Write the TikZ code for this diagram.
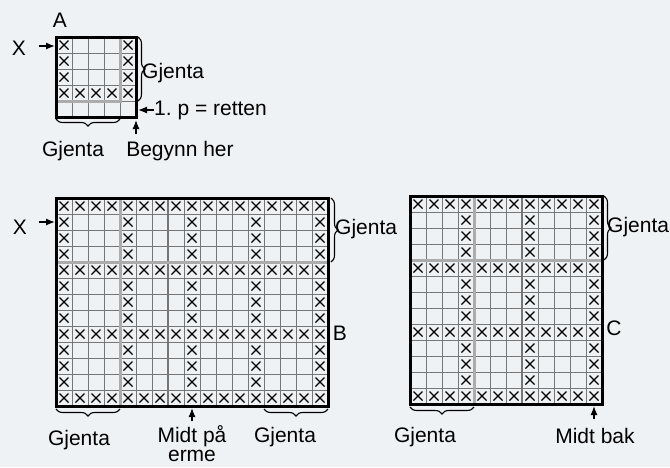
\documentclass[tikz,border=0pt]{standalone}
\usepackage{fontspec}
\setmainfont{Liberation Sans}
\usepackage{tikz}
\usetikzlibrary{
  arrows.meta,calc,positioning,decorations.pathreplacing
}
\definecolor{PaperBg}{RGB}{239,242,245}
\definecolor{GridGray}{RGB}{118,118,118}
\definecolor{RepeatGray}{RGB}{172,172,172}
\frenchspacing

\tikzset{
  lbl/.style={font=\fontsize{21}{19}\selectfont,inner sep=0pt},
  cross/.style={line width=1.1pt,black},
  grd/.style={line width=.9pt,GridGray},
  grdmid/.style={line width=1.7pt,GridGray},
  rpt/.style={line width=3pt,RepeatGray},
  border/.style={line width=3pt,black,line cap=rect},
  brc/.style={decorate,decoration={brace,amplitude=7pt},line width=1.1pt},
  pointer/.style={-{Latex[length=9pt,width=7pt]},line width=1.3pt}
}

\begin{document}
\begin{tikzpicture}[x=1pt,y=-1pt]
      \fill[PaperBg] (0,0) rectangle (670,467);
      \useasboundingbox (0,0) rectangle (670,467);
      % chart A
      \begin{scope}[shift={(56,37)}]
        \foreach \c in {1,...,4}{
          \draw[grd] (16*\c,0)--(16*\c,80);
          \draw[grd] (0,16*\c)--(80,16*\c);
        }
        \foreach \c in {0,...,4}{
          \foreach \r in {0,...,4}{
            \pgfmathtruncatemacro\hasx{(\r<4 && (\c==0 || \c==4 || \r==3)) ? 1 : 0}
            \ifnum\hasx=1
              \draw[cross] (16*\c+3.5,16*\r+3.5)--++(9,9)
                (16*\c+12.5,16*\r+3.5)--++(-9,9);
            \fi
          }
        }
        \draw[rpt] (64,0)--(64,64)--(0,64);
        \draw[border] (0,0) rectangle (80,80);
      \end{scope}
      % chart B
      \begin{scope}[shift={(56,198)}]
        \foreach \c in {1,...,16}{
          \draw[grd] (16*\c,0)--(16*\c,208);
        }
        \foreach \r in {1,...,12}{
          \draw[grd] (0,16*\r)--(272,16*\r);
        }
        \draw[grdmid] (112,0)--(112,208);
        \foreach \c in {0,...,16}{
          \foreach \r in {0,...,12}{
            \pgfmathtruncatemacro\hasx{(mod(\r,4)==0 || mod(\c,4)==0) ? 1 : 0}
            \ifnum\hasx=1
              \draw[cross] (16*\c+3.5,16*\r+3.5)--++(9,9)
                (16*\c+12.5,16*\r+3.5)--++(-9,9);
            \fi
          }
        }
        \draw[rpt] (64,0)--(64,208);
        \draw[rpt] (0,64)--(272,64);
        \draw[border] (0,0) rectangle (272,208);
      \end{scope}
      % chart C
      \begin{scope}[shift={(410,196)}]
        \foreach \c in {1,...,11}{
          \draw[grd] (16*\c,0)--(16*\c,208);
        }
        \foreach \r in {1,...,12}{
          \draw[grd] (0,16*\r)--(192,16*\r);
        }
        \draw[grdmid] (112,0)--(112,208);
        \foreach \c in {0,...,11}{
          \foreach \r in {0,...,12}{
            \pgfmathtruncatemacro\hasx{(mod(\r,4)==0 || mod(\c,4)==3) ? 1 : 0}
            \ifnum\hasx=1
              \draw[cross] (16*\c+3.5,16*\r+3.5)--++(9,9)
                (16*\c+12.5,16*\r+3.5)--++(-9,9);
            \fi
          }
        }
        \draw[rpt] (64,0)--(64,208);
        \draw[rpt] (0,64)--(192,64);
        \draw[border] (0,0) rectangle (192,208);
      \end{scope}
      % labels A
      \node[lbl] (labelA) at (60,20) {A};
      \node[lbl] (rowA) at (19,48) {X};
      \coordinate (rowAfrom) at (39,46);
      \coordinate (rowAto) at (55,46);
      \draw[pointer] (rowAfrom)--(rowAto);
      \coordinate (braceAtop) at (138,37);
      \coordinate (braceAbot) at (138,101);
      \draw[brc] (braceAtop)--(braceAbot);
      \node[lbl,anchor=west] (repeatAright) at (142,73) {Gjenta};
      \node[lbl,anchor=west] (firstA) at (154,110) {1. p = retten};
      \coordinate (firstAto) at (138,110);
      \draw[pointer] (firstA.west)--(firstAto);
      \coordinate (braceAleft) at (56,119);
      \coordinate (braceAright) at (120,119);
      \draw[brc] (braceAright)--(braceAleft);
      \node[lbl] (repeatAbelow) at (73,151) {Gjenta};
      \node[lbl] (startA) at (180,151) {Begynn her};
      \coordinate (startAfrom) at (136,134);
      \coordinate (startAto) at (136,120);
      \draw[pointer] (startAfrom)--(startAto);
      % labels B
      \node[lbl] (rowB) at (20,227) {X};
      \coordinate (rowBfrom) at (39,222);
      \coordinate (rowBto) at (55,222);
      \draw[pointer] (rowBfrom)--(rowBto);
      \coordinate (braceBtop) at (331,198);
      \coordinate (braceBbot) at (331,262);
      \draw[brc] (braceBtop)--(braceBbot);
      \node[lbl,anchor=west] (repeatBright) at (335,229) {Gjenta};
      \node[lbl] (labelB) at (340,333) {B};
      \coordinate (braceBlleft) at (56,409);
      \coordinate (braceBlright) at (120,409);
      \draw[brc] (braceBlright)--(braceBlleft);
      \node[lbl] (repeatBleft) at (79,440) {Gjenta};
      \coordinate (braceBrleft) at (264,409);
      \coordinate (braceBrright) at (328,409);
      \draw[brc] (braceBrright)--(braceBrleft);
      \node[lbl] (repeatBrt) at (285,437) {Gjenta};
      \node[lbl,align=center] (midB) at (192,444) {Midt på\\erme};
      \coordinate (midBfrom) at (192,421);
      \coordinate (midBto) at (192,408);
      \draw[pointer] (midBfrom)--(midBto);
      % labels C
      \coordinate (braceCtop) at (604,196);
      \coordinate (braceCbot) at (604,260);
      \draw[brc] (braceCtop)--(braceCbot);
      \node[lbl,anchor=west] (repeatCright) at (607,227) {Gjenta};
      \node[lbl] (labelC) at (614,328) {C};
      \coordinate (braceCleft) at (410,407);
      \coordinate (braceCright) at (474,407);
      \draw[brc] (braceCright)--(braceCleft);
      \node[lbl] (repeatCbelow) at (425,437) {Gjenta};
      \node[lbl] (midC) at (595,436) {Midt bak};
      \coordinate (midCfrom) at (594,419);
      \coordinate (midCto) at (594,406);
      \draw[pointer] (midCfrom)--(midCto);
\end{tikzpicture}
\end{document}
